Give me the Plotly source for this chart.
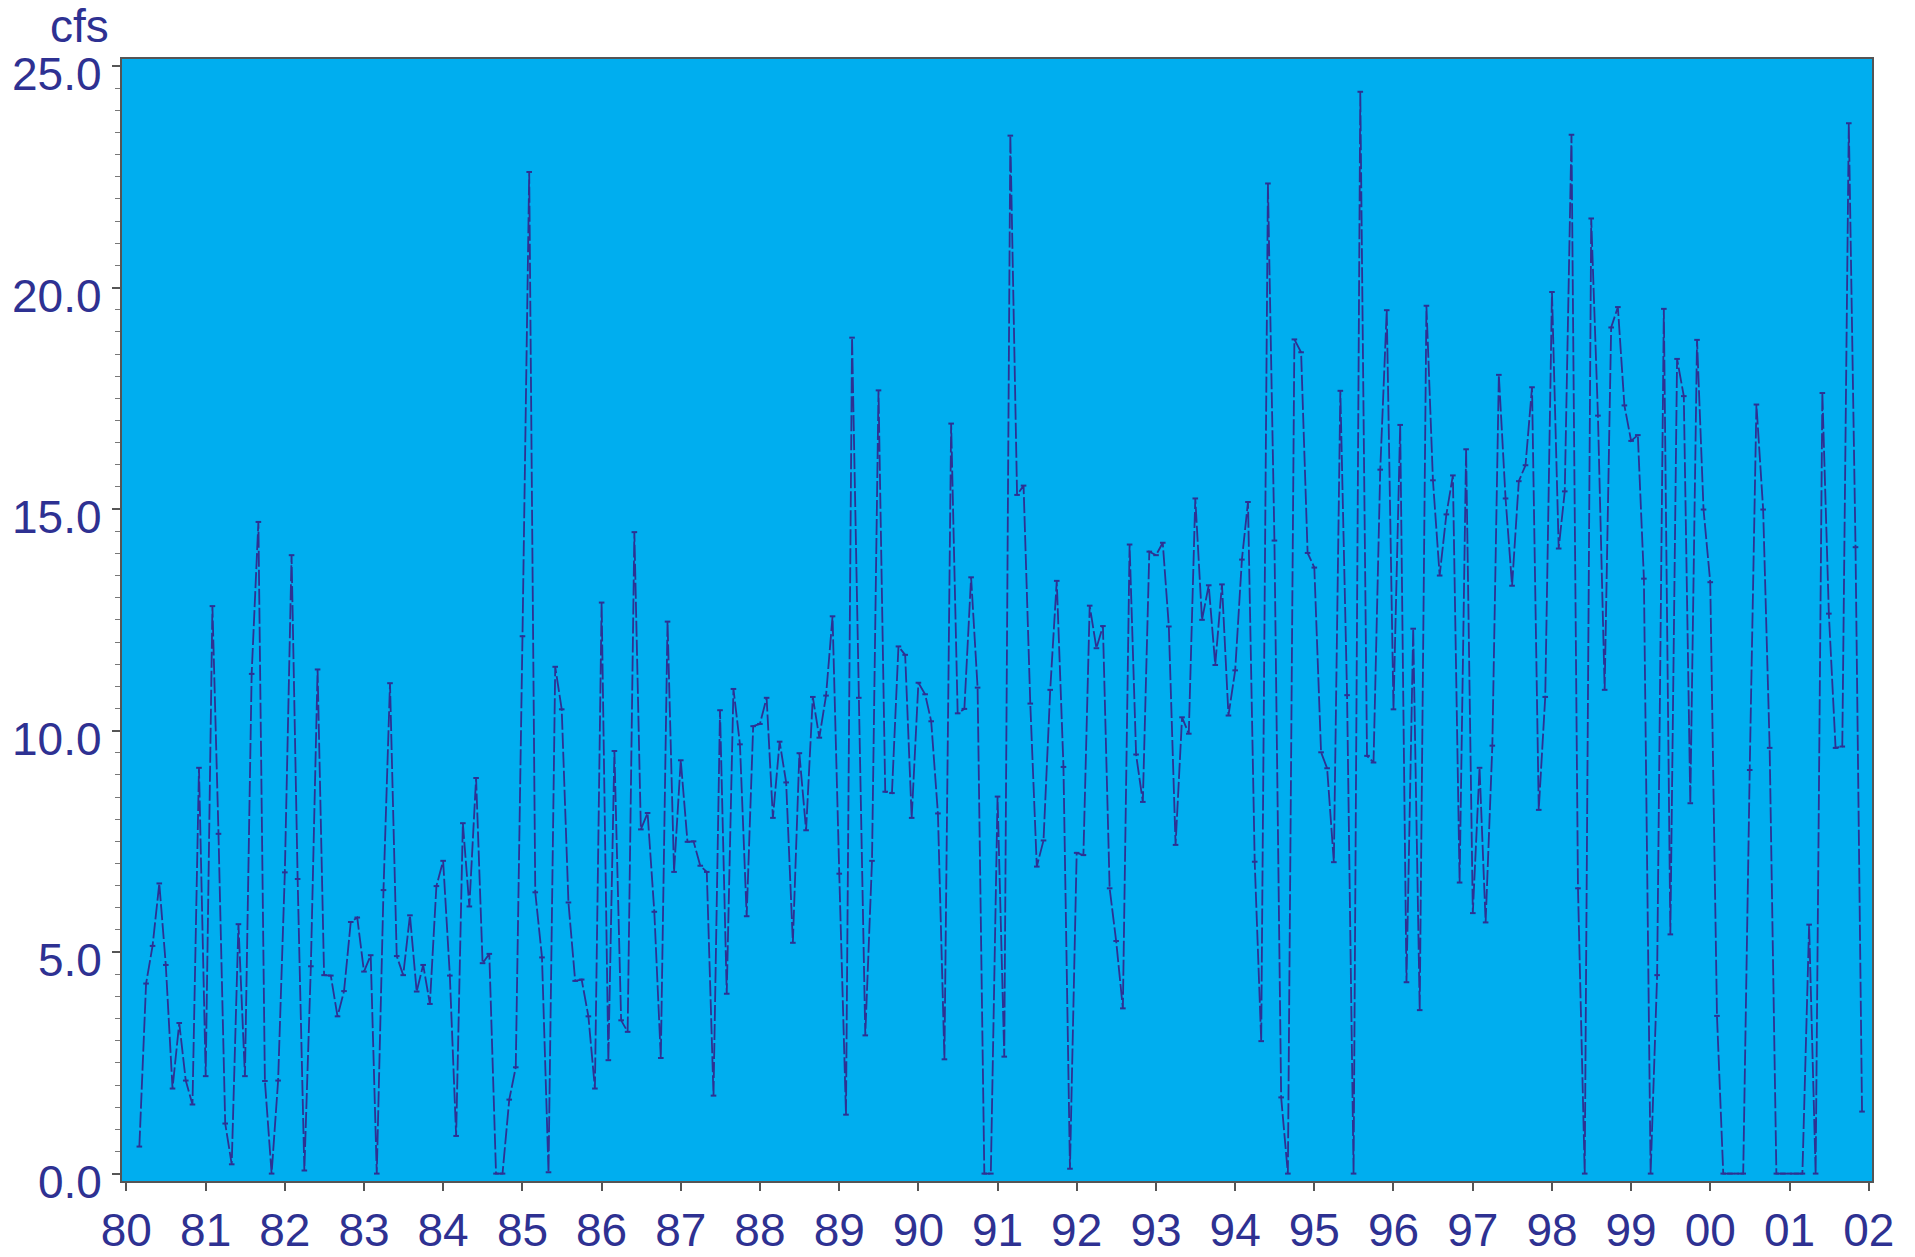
import pandas as pd
import plotly.graph_objects as go

# Monthly flow (cfs), March 1980 through December 2001
start_month = "1980-03-01"
flow_cfs = [
    0.61, 4.29, 5.14, 6.55, 4.71, 1.92, 3.40, 2.10, 1.56, 9.16,
    2.20, 12.81, 7.67, 1.13, 0.21, 5.63, 2.20, 11.28, 14.71, 2.09, 0.00, 2.10,
    6.80, 13.96, 6.65, 0.07, 4.68, 11.38, 4.48, 4.47, 3.55, 4.12, 5.68, 5.78,
    4.56, 4.93, 0.00, 6.40, 11.07, 4.91, 4.48, 5.83, 4.11, 4.71, 3.83, 6.49,
    7.06, 4.47, 0.85, 7.91, 6.03, 8.93, 4.75, 4.96, 0.00, 0.00, 1.67, 2.40,
    12.13, 22.61, 6.35, 4.88, 0.03, 11.44, 10.48, 6.12, 4.35, 4.38, 3.55, 1.92,
    12.89, 2.56, 9.54, 3.46, 3.20, 14.48, 7.77, 8.14, 5.91, 2.61, 12.46, 6.81,
    9.33, 7.49, 7.50, 6.95, 6.81, 1.76, 10.46, 4.06, 10.94, 9.69, 5.81, 10.10,
    10.15, 10.74, 8.03, 9.75, 8.83, 5.21, 9.49, 7.75, 10.76, 9.84, 10.79, 12.58,
    6.77, 1.33, 18.87, 10.74, 3.12, 7.06, 17.68, 8.62, 8.59, 11.90, 11.71, 8.03,
    11.08, 10.82, 10.21, 8.13, 2.58, 16.93, 10.39, 10.49, 13.46, 10.97, 0.00, 0.00,
    8.51, 2.64, 23.43, 15.32, 15.53, 10.61, 6.93, 7.52, 10.92, 13.38, 9.18, 0.11,
    7.24, 7.19, 12.82, 11.86, 12.36, 6.44, 5.25, 3.73, 14.20, 9.46, 8.39, 14.04,
    13.96, 14.24, 12.35, 7.42, 10.30, 9.93, 15.24, 12.50, 13.28, 11.48, 13.30, 10.34,
    11.36, 13.86, 15.16, 7.04, 2.99, 22.35, 14.29, 1.72, 0.00, 18.83, 18.54, 14.01,
    13.68, 9.51, 9.15, 7.03, 17.67, 10.80, 0.00, 24.42, 9.43, 9.28, 15.89, 19.49,
    10.48, 16.90, 4.32, 12.30, 3.69, 19.59, 15.65, 13.50, 14.88, 15.76, 6.57, 16.35,
    5.88, 9.16, 5.67, 9.66, 18.03, 15.24, 13.27, 15.63, 15.99, 17.75, 8.21, 10.76,
    19.90, 14.11, 15.40, 23.45, 6.44, 0.00, 21.56, 17.11, 10.92, 19.10, 19.56, 17.34,
    16.54, 16.67, 13.43, 0.00, 4.48, 19.52, 5.40, 18.39, 17.55, 8.36, 18.82, 14.99,
    13.35, 3.56, 0.00, 0.00, 0.00, 0.00, 9.11, 17.36, 14.99, 9.61, 0.00, 0.00,
    0.00, 0.00, 0.00, 5.62, 0.00, 17.62, 12.64, 9.61, 9.64, 23.71, 14.14, 1.40,
]
year_ticks = list(range(1980, 2003))
year_labels = [str(y)[-2:] for y in year_ticks]
y_ticks = [0, 5, 10, 15, 20, 25]
y_labels = ["0.0", "5.0", "10.0", "15.0", "20.0", "25.0"]

dates = pd.date_range(start_month, periods=len(flow_cfs), freq="MS")

NAVY = "#2E3192"
FONT = "Liberation Sans, Arial, sans-serif"
FS = 46

fig = go.Figure()
fig.add_trace(go.Scatter(
    x=dates, y=flow_cfs, mode="lines+markers",
    line=dict(color=NAVY, width=1.8, dash="16px,3px"),
    marker=dict(symbol="line-ew-open", size=4, color=NAVY,
                line=dict(color=NAVY, width=2)),
    showlegend=False,
))

annotations = [dict(
    text="cfs", xref="paper", yref="paper", x=0, y=1,
    xanchor="right", yanchor="bottom", xshift=-12, yshift=6, borderpad=0,
    showarrow=False, font=dict(family=FONT, color=NAVY, size=FS),
)]
for v, lab in zip(y_ticks, y_labels):
    annotations.append(dict(
        text=lab, xref="paper", yref="y", x=0, y=v,
        xanchor="right", yanchor="middle", xshift=-19, yshift=-8, borderpad=0,
        showarrow=False, font=dict(family=FONT, color=NAVY, size=FS),
    ))

fig.update_layout(
    width=1915, height=1257,
    margin=dict(l=122, r=43, t=59, b=76),
    paper_bgcolor="white",
    plot_bgcolor="#00AEEF",
    font=dict(family=FONT, color=NAVY, size=FS),
    xaxis=dict(
        type="date",
        range=["1979-12-12", "2002-01-16"],
        tickvals=[pd.Timestamp(f"{y}-01-01") for y in year_ticks],
        ticktext=year_labels,
        ticks="outside", ticklen=8, tickwidth=1.5, tickcolor="#555555",
        showgrid=False, zeroline=False, automargin=False,
        showline=True, linecolor="#555555", linewidth=1.5, mirror=True,
        tickfont=dict(family=FONT, color=NAVY, size=FS),
        ticklabelstandoff=0,
    ),
    yaxis=dict(
        range=[-0.167, 25.16],
        tickvals=y_ticks, showticklabels=False,
        ticks="outside", ticklen=8, tickwidth=1.5, tickcolor="#555555",
        minor=dict(dtick=0.5, tick0=0, ticks="outside", ticklen=5,
                   tickcolor="#777777", tickwidth=1),
        showgrid=False, zeroline=False, automargin=False,
        showline=True, linecolor="#555555", linewidth=1.5, mirror=True,
    ),
    annotations=annotations,
)

fig.write_html("out.html")
